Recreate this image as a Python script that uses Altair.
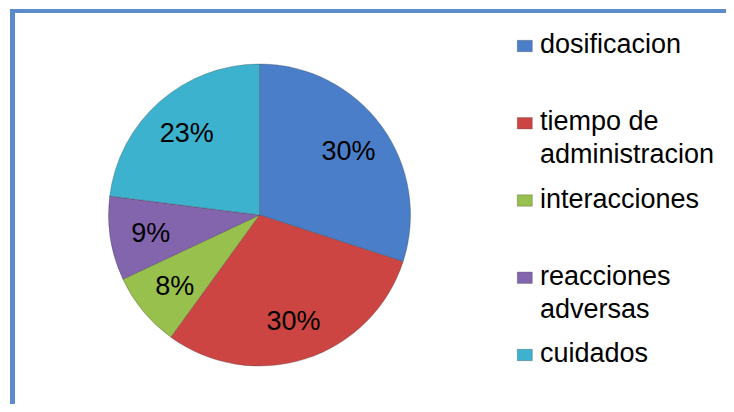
import altair as alt
import pandas as pd

categories = ["dosificacion", "tiempo de administracion", "interacciones",
              "reacciones adversas", "cuidados"]
legend_lines = ["dosificacion", "tiempo de\nadministracion", "interacciones",
                "reacciones\nadversas", "cuidados"]
values = [30, 30, 8, 9, 23]
colors = ["#4A7EC8", "#CD4542", "#98C04C", "#8365AE", "#3CB2CF"]

df = pd.DataFrame({
    "cat": categories,
    "label": legend_lines,
    "value": values,
    "order": list(range(len(categories))),
    "pct": [f"{v}%" for v in values],
})

W, H = 718, 396
CX, CY, R = 251.5, 207, 151
FONT = "Liberation Sans"

base = alt.Chart(df)
color = alt.Color("cat:N", scale=alt.Scale(domain=categories, range=colors), legend=None)
theta = alt.Theta("value:Q", stack=True)
order = alt.Order("order:Q")

pie = base.mark_arc(radius=R, stroke="#3a3a3a", strokeWidth=0.6, strokeOpacity=0.5).encode(
    theta=theta, order=order, color=color,
    x=alt.value(CX), y=alt.value(CY),
)

pie_labels = base.mark_text(radius=110, dy=2, fontSize=27, font=FONT, color="black").encode(
    theta=theta, order=order, text="pct:N",
    x=alt.value(CX), y=alt.value(CY),
)

ypos = alt.Y("cat:N", sort=categories, axis=None,
             scale=alt.Scale(type="point", range=[38, 347], padding=0))

legend_marks = base.mark_point(
    shape="M-1.25,-0.95L1.25,-0.95L1.25,0.95L-1.25,0.95Z", size=144, filled=True,
    opacity=1, stroke="#333333", strokeWidth=0.3,
).encode(
    x=alt.value(516.8), y=ypos, color=color,
)

legend_text = base.mark_text(align="left", baseline="alphabetic", dy=7, lineBreak="\n",
                             lineHeight=33, fontSize=27, font=FONT, color="black").encode(
    x=alt.value(532), y=ypos, text="label:N",
)

frame_df = pd.DataFrame({"k": [0]})
top_line = alt.Chart(frame_df).mark_rule(color="#5B8BC9", strokeWidth=4, strokeCap="butt").encode(
    x=alt.value(2), x2=alt.value(W), y=alt.value(3),
)
left_line = alt.Chart(frame_df).mark_rule(color="#5B8BC9", strokeWidth=5, strokeCap="butt").encode(
    x=alt.value(4.5), y=alt.value(1), y2=alt.value(H),
)

chart = alt.layer(pie, pie_labels, legend_marks, legend_text, top_line, left_line).properties(
    width=W, height=H, padding=0,
    autosize=alt.AutoSizeParams(type="none"),
).configure_view(strokeWidth=0)

chart.save("out.html", embed_options={"renderer": "svg", "actions": False})
